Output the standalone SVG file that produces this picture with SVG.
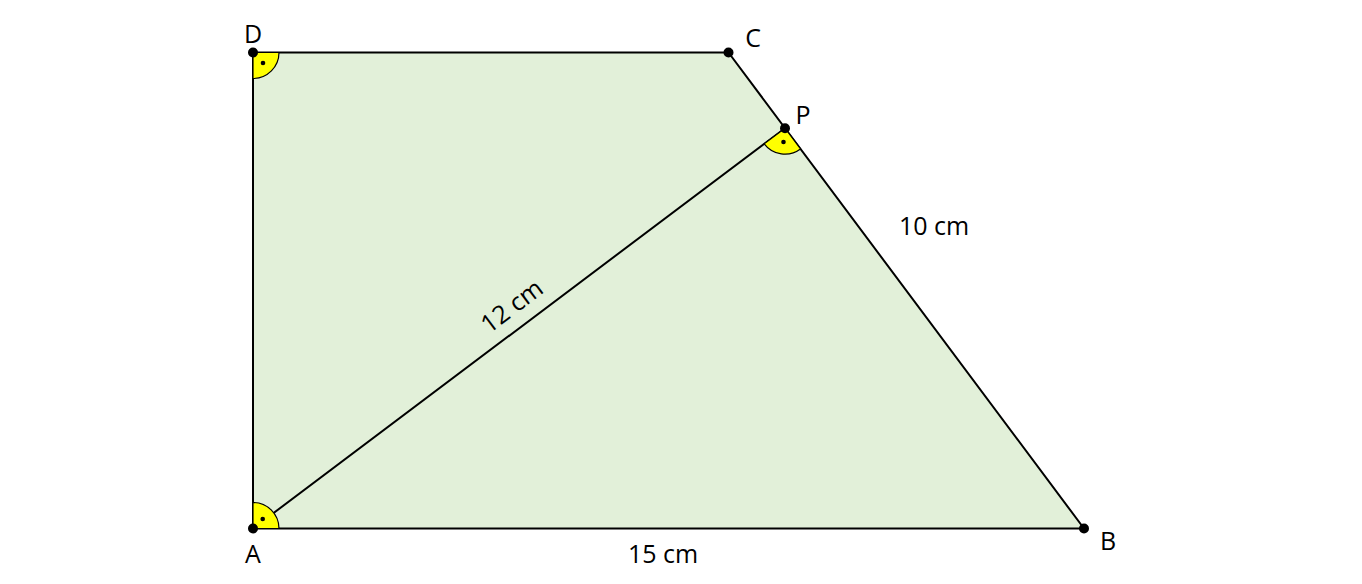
<svg xmlns="http://www.w3.org/2000/svg" width="1362" height="584" viewBox="0 0 1362 584">
  <style>
    .edge { stroke: #000; stroke-width: 2; fill: none; stroke-linecap: round; }
    .mark { fill: #FFFF00; stroke: #000; stroke-width: 1.2; }
    .pt { fill: #000; }
    .lbl { font-family: "Open Sans", "Liberation Sans", sans-serif; font-size: 25px; fill: #000; }
  </style>
  <rect width="1362" height="584" fill="#fff"/>
  <polygon id="shape" points="253,528.5 1084,528.5 728.5,52.5 253,52.5" fill="#E2F0D9" stroke="none"/>
  <g id="connectors">
    <line class="edge" x1="253" y1="528.5" x2="1084" y2="528.5"/>
    <line class="edge" x1="1084" y1="528.5" x2="728.5" y2="52.5"/>
    <line class="edge" x1="728.5" y1="52.5" x2="253" y2="52.5"/>
    <line class="edge" x1="253" y1="52.5" x2="253" y2="528.5"/>
    <line class="edge" x1="253" y1="528.5" x2="785" y2="128.2"/>
    <text class="lbl" x="517" y="313" text-anchor="middle" transform="rotate(-37 517 313)">12 cm</text>
    <text class="lbl" x="899" y="235">10 cm</text>
    <text class="lbl" x="663" y="563" text-anchor="middle">15 cm</text>
  </g>
  <g id="angle-marks">
    <path class="mark" d="M253,52.5 L279,52.5 A26,26 0 0 1 253,78.5 Z"/>
    <path class="mark" d="M253,528.5 L253,502.5 A26,26 0 0 1 279,528.5 Z"/>
    <path class="mark" d="M785,128.2 L764.2,143.8 A26,26 0 0 0 800.5,149 Z"/>
    <circle class="pt" cx="263" cy="63" r="2.3"/>
    <circle class="pt" cx="262.7" cy="519" r="2.3"/>
    <circle class="pt" cx="783.5" cy="142" r="2.3"/>
  </g>
  <g id="node-A"><circle class="pt" cx="253" cy="528.5" r="5"/><text class="lbl" x="253" y="563" text-anchor="middle">A</text></g>
  <g id="node-B"><circle class="pt" cx="1084" cy="528.5" r="5"/><text class="lbl" x="1108" y="550" text-anchor="middle">B</text></g>
  <g id="node-C"><circle class="pt" cx="728.5" cy="52.5" r="5"/><text class="lbl" x="753" y="47" text-anchor="middle">C</text></g>
  <g id="node-D"><circle class="pt" cx="253" cy="52.5" r="5"/><text class="lbl" x="253" y="43" text-anchor="middle">D</text></g>
  <g id="node-P"><circle class="pt" cx="785" cy="128.2" r="5"/><text class="lbl" x="803" y="124" text-anchor="middle">P</text></g>
</svg>
